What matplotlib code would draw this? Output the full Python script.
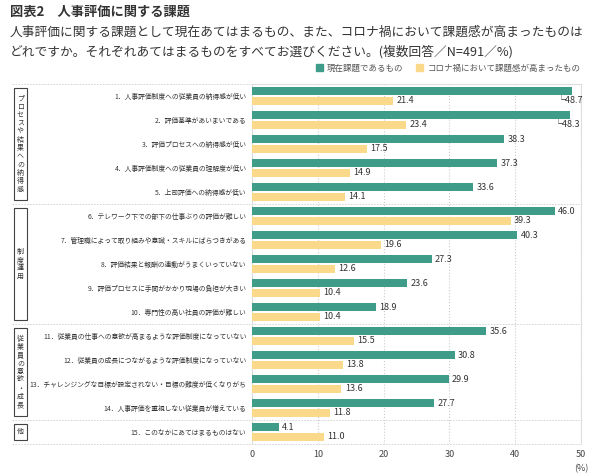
import matplotlib.pyplot as plt
from matplotlib.patches import Rectangle
from matplotlib.lines import Line2D

plt.rcParams['font.family'] = ['Noto Sans CJK JP', 'DejaVu Sans']

# Data
items = [
    '1．人事評価制度への従業員の納得感が低い',
    '2．評価基準があいまいである',
    '3．評価プロセスへの納得感が低い',
    '4．人事評価制度への従業員の理解度が低い',
    '5．上司評価への納得感が低い',
    '6．テレワーク下での部下の仕事ぶりの評価が難しい',
    '7．管理職によって取り組みや意識・スキルにばらつきがある',
    '8．評価結果と報酬の連動がうまくいっていない',
    '9．評価プロセスに手間がかかり現場の負担が大きい',
    '10．専門性の高い社員の評価が難しい',
    '11．従業員の仕事への意欲が高まるような評価制度になっていない',
    '12．従業員の成長につながるような評価制度になっていない',
    '13．チャレンジングな目標が設定されない・目標の難度が低くなりがち',
    '14．人事評価を重視しない従業員が増えている',
    '15．このなかにあてはまるものはない',
]
current = [48.7, 48.3, 38.3, 37.3, 33.6, 46.0, 40.3, 27.3, 23.6, 18.9,
           35.6, 30.8, 29.9, 27.7, 4.1]
corona = [21.4, 23.4, 17.5, 14.9, 14.1, 39.3, 19.6, 12.6, 10.4, 10.4,
          15.5, 13.8, 13.6, 11.8, 11.0]
groups = ['プロセスや結果への納得感', '制度運用', '従業員の意欲・成長', '他']
group_sizes = [5, 5, 4, 1]
series_names = ['現在課題であるもの', 'コロナ禍において課題感が高まったもの']

green = '#3e9c88'
yellow = '#fbd98b'
txt = '#333333'

W, H = 600, 473
fig = plt.figure(figsize=(6, 4.73), dpi=100)
ax = fig.add_axes([252 / W, 1 - 444 / H, (581 - 252) / W, (444 - 84) / H])

n = len(items)
ys = list(range(n))
off = 0.2
bh = 0.34
ax.barh([y - off for y in ys], current, height=bh, color=green, zorder=3)
ax.barh([y + off for y in ys], corona, height=bh, color=yellow, zorder=3)

for y, v in zip(ys, current):
    if v > 48:
        ax.text(v - 2.4, y + off, '└' + f'{v:.1f}', va='center', ha='left',
                fontsize=6.5, color=txt, zorder=4)
    else:
        ax.text(v + 0.5, y - off, f'{v:.1f}', va='center', ha='left',
                fontsize=6.5, color=txt, zorder=4)
for y, v in zip(ys, corona):
    ax.text(v + 0.5, y + off, f'{v:.1f}', va='center', ha='left',
            fontsize=6.5, color=txt, zorder=4)

ax.set_xlim(0, 50)
ax.set_ylim(n - 0.5, -0.5)
ax.set_yticks(ys)
ax.set_yticklabels(items, fontsize=4.9, color=txt)
ax.tick_params(axis='y', length=0, pad=4)
ax.set_xticks([0, 10, 20, 30, 40, 50])
ax.tick_params(axis='x', length=0, labelsize=6.5, labelcolor='#444444', pad=4)
ax.grid(axis='x', linestyle=':', color='#cccccc', linewidth=0.8, zorder=0)
for s in ['top', 'right', 'left']:
    ax.spines[s].set_color('#dddddd')
    ax.spines[s].set_linewidth(0.8)
ax.spines['bottom'].set_visible(False)
ax.text(50, n + 0.35, '(%)', ha='center', va='top', fontsize=6.5,
        color='#444444', clip_on=False)

# group separators (dashed, spanning into label area)
bounds = [-0.5]
acc = -0.5
for g in group_sizes:
    acc += g
    bounds.append(acc)
tr = ax.get_yaxis_transform()
x0 = (12 - 252) / (581 - 252)
for b in bounds:
    ax.add_line(Line2D([x0, 1], [b, b], transform=tr, color='#d0d0d0',
                       linestyle=(0, (2, 1.5)), linewidth=0.6, clip_on=False,
                       zorder=1))

# group boxes with vertical text
bx0 = (14 - 252) / (581 - 252)
bw = 13 / (581 - 252)
start = -0.5
for name, g in zip(groups, group_sizes):
    top = start + 0.15
    bot = start + g - 0.15
    ax.add_patch(Rectangle((bx0, top), bw, bot - top, transform=tr,
                           fill=False, edgecolor='#444444', linewidth=0.8,
                           clip_on=False))
    ax.text(bx0 + bw / 2, (top + bot) / 2, '\n'.join(name), transform=tr,
            ha='center', va='center', fontsize=5, linespacing=1.05,
            color=txt, clip_on=False)
    start += g

# titles
fig.text(10 / W, 1 - 12 / H, '図表2　人事評価に関する課題', fontsize=9.5,
         fontweight='bold', color=txt, va='center')
fig.text(10 / W, 1 - 32 / H,
         '人事評価に関する課題として現在あてはまるもの、また、コロナ禍において課題感が高まったものは',
         fontsize=9.15, color=txt, va='center')
fig.text(10 / W, 1 - 52 / H,
         'どれですか。それぞれあてはまるものをすべてお選びください。(複数回答／N=491／%)',
         fontsize=9.15, color=txt, va='center')

handles = [Rectangle((0, 0), 1, 1, color=green), Rectangle((0, 0), 1, 1, color=yellow)]
fig.legend(handles, series_names, loc='center right',
           bbox_to_anchor=(588 / W, 1 - 68 / H), ncol=2, frameon=False,
           fontsize=6.1, handlelength=0.8, handleheight=0.8, handletextpad=0.5,
           columnspacing=1.5, labelcolor='#555555')

fig.savefig('out.png', dpi=100)
